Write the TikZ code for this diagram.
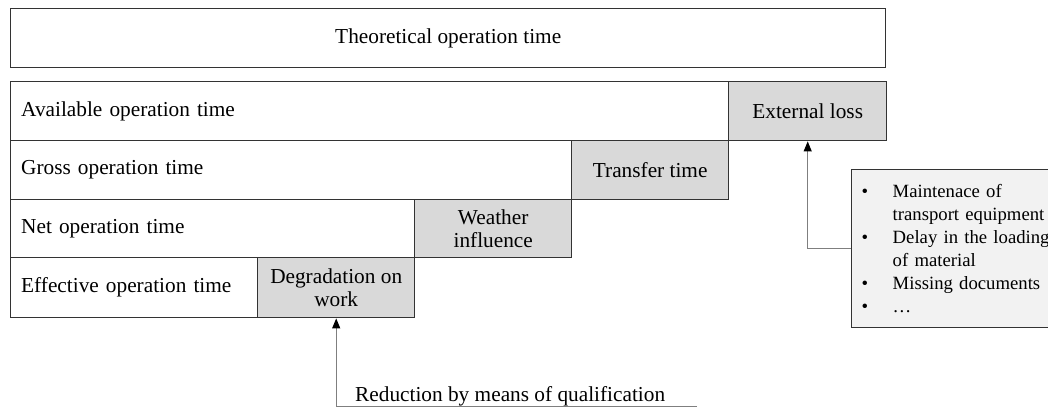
\documentclass[tikz,border=0pt]{standalone}
\usepackage{fontspec}
\setmainfont{Liberation Serif}
\usetikzlibrary{arrows.meta}
\definecolor{edgec}{HTML}{333333}
\definecolor{grayc}{HTML}{D9D9D9}
\definecolor{notec}{HTML}{F2F2F2}
\definecolor{connc}{HTML}{7F7F7F}
\begin{document}
\begin{tikzpicture}[x=1pt,y=-1pt,
  cell/.style={draw=edgec, line width=1.4pt, rectangle, anchor=north west, inner xsep=10.5pt, inner ysep=0pt,
     font=\fontsize{21.3}{24}\selectfont, align=left, text=black},
  whitecell/.style={cell, fill=white},
  graycell/.style={cell, fill=grayc, align=center, inner xsep=2pt},
  conn/.style={draw=connc, line width=1pt},
  tip/.style={-{Triangle[color=black,length=10pt,width=8pt]}}
]
\useasboundingbox (0,0) rectangle (1048,410);
\clip (0,0) rectangle (1048,410);
% top
\node[whitecell, align=center, minimum width=875pt, minimum height=59pt] (theo) at (10,8) {Theoretical operation time};
% rows
\node[whitecell, minimum width=718pt, minimum height=59pt, text width=697pt] (avail) at (10,81) {Available operation time};
\node[graycell, minimum width=158pt, minimum height=59pt] (ext) at (728,81) {External loss};
\node[whitecell, minimum width=561pt, minimum height=59pt, text width=540pt] (gross) at (10,140) {Gross operation time};
\node[graycell, minimum width=157pt, minimum height=59pt] (transfer) at (571,140) {Transfer time};
\node[whitecell, minimum width=404pt, minimum height=58pt, text width=383pt] (net) at (10,199) {Net operation time};
\node[graycell, minimum width=157pt, minimum height=58pt] (weather) at (414,199) {Weather\\[-1pt]influence};
\node[whitecell, minimum width=247pt, minimum height=60pt, text width=226pt] (eff) at (10,257) {Effective operation time};
\node[graycell, minimum width=157pt, minimum height=60pt] (degr) at (257,257) {Degradation on\\[-1pt]work};
% note box
\node[draw=edgec, line width=1.4pt, fill=notec, rectangle, anchor=north west, minimum width=230pt, minimum height=158pt,
      inner xsep=10pt, inner ysep=0pt, text width=210pt, align=left, font=\fontsize{18.7}{23}\selectfont] (note) at (851,169)
  {\makebox[31pt][l]{•}Maintenace of\\
   \hspace*{31pt}transport equipment\\
   \makebox[31pt][l]{•}Delay in the loading\\
   \hspace*{31pt}of material\\
   \makebox[31pt][l]{•}Missing documents\\
   \makebox[31pt][l]{•}…};
% bottom label
\node[anchor=south west, inner sep=0pt, font=\fontsize{21.3}{24}\selectfont] (red) at (355,406) {Reduction by means of qualification};
\coordinate (redend) at (697,406.7);
% connectors
\draw[conn, tip] (note.west) -| (ext.south);
\draw[conn, tip] (redend) -| (degr.south);
\end{tikzpicture}
\end{document}
